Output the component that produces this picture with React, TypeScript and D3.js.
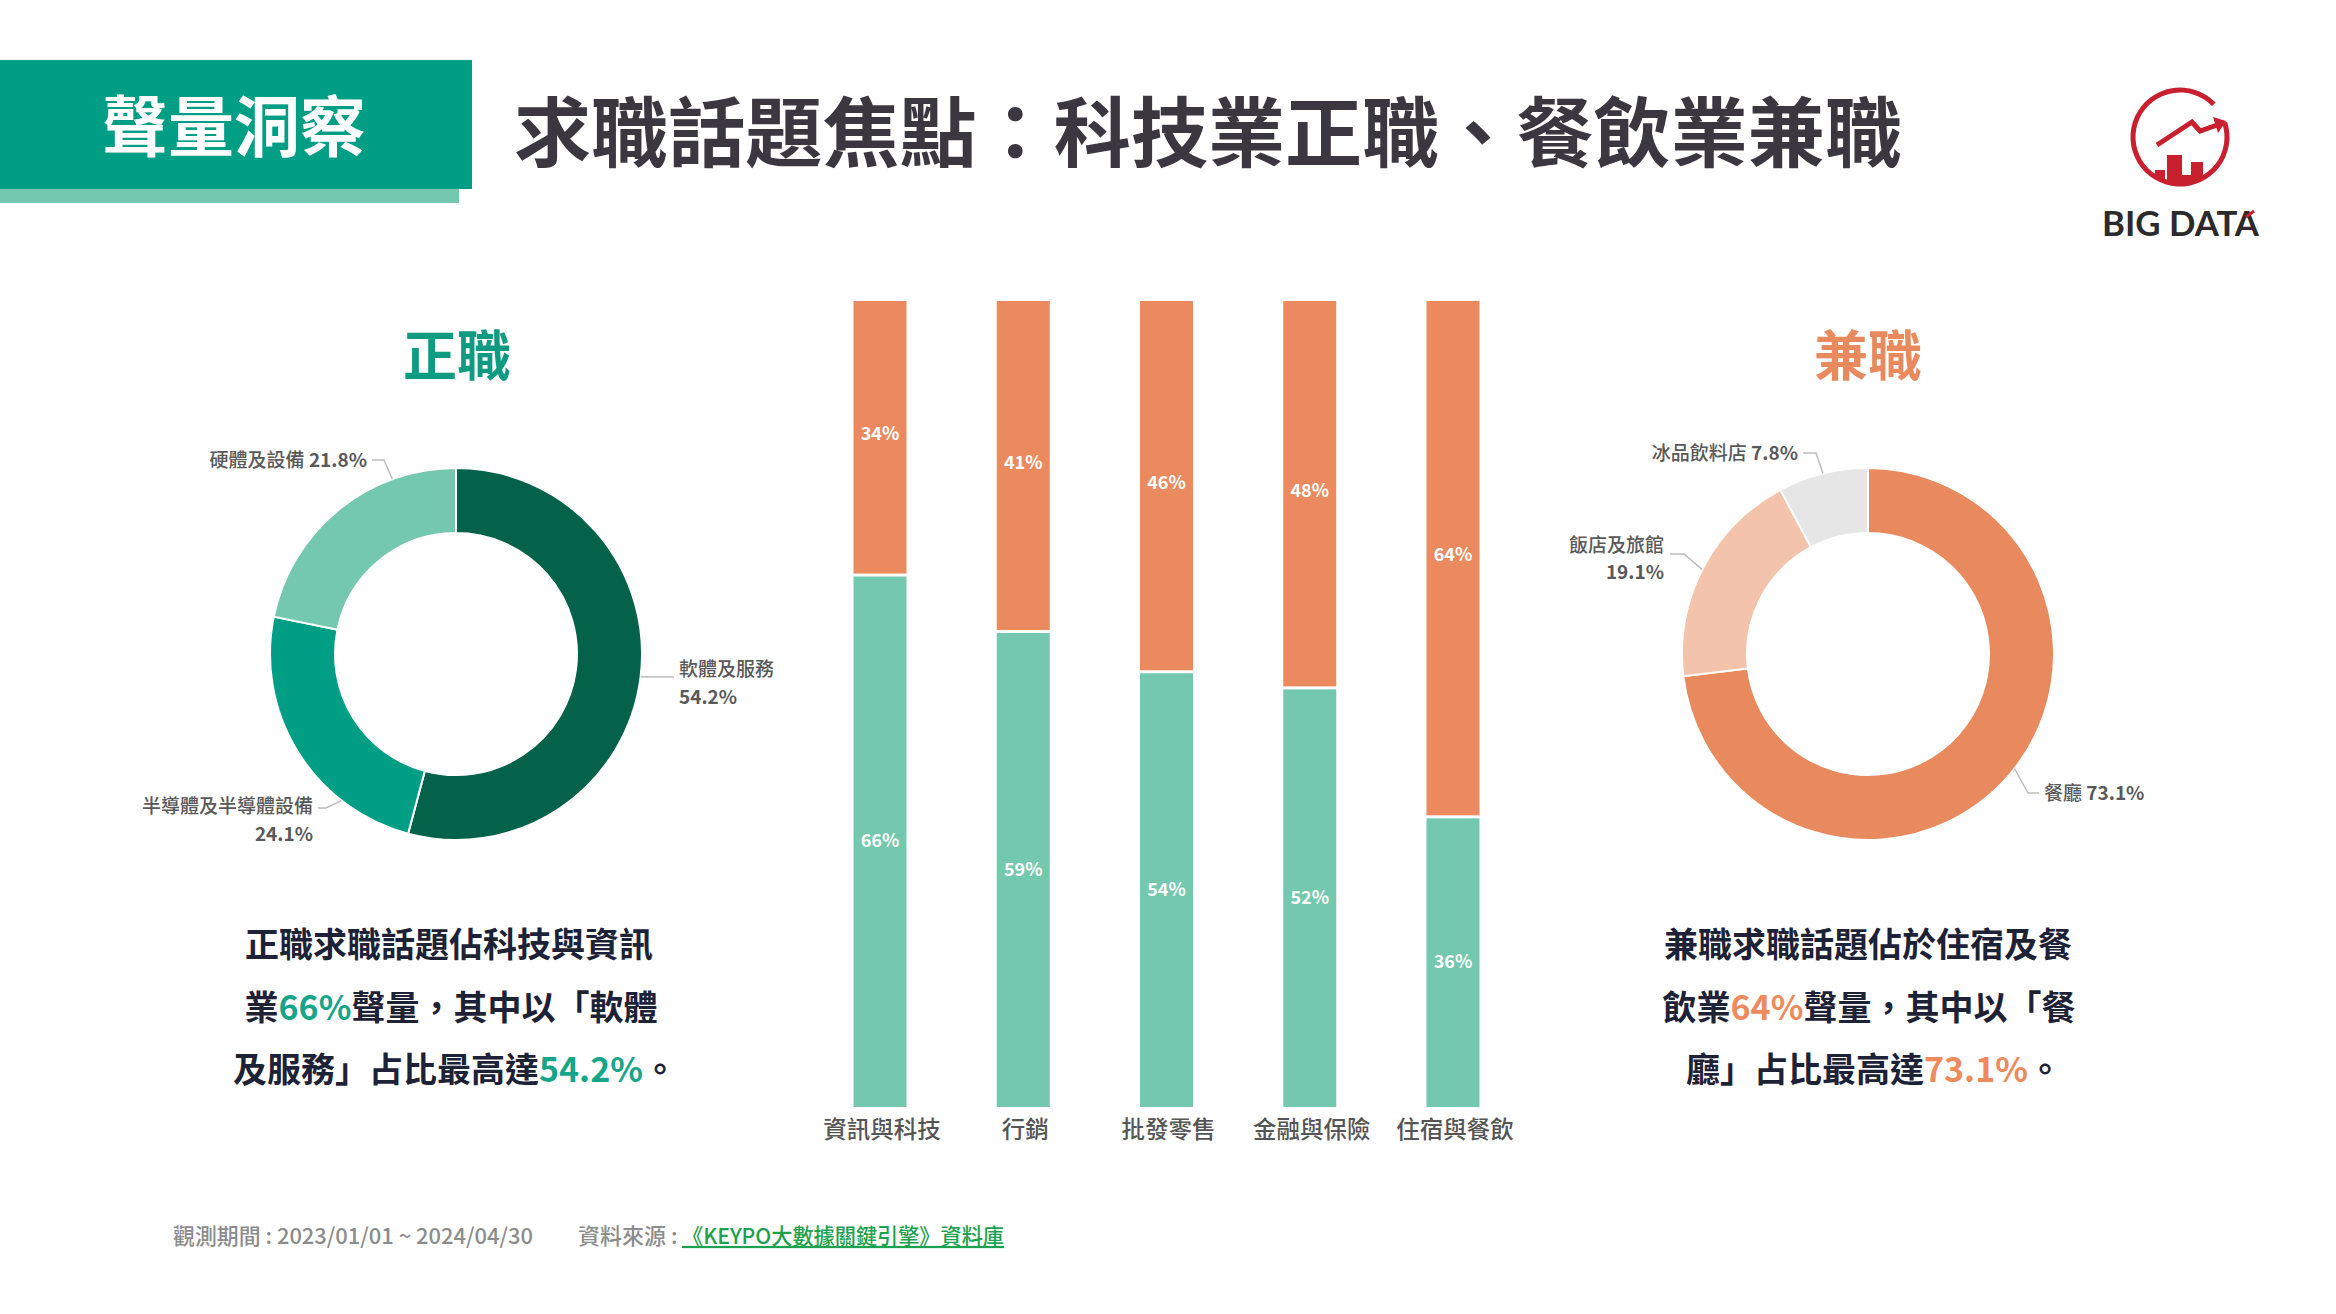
import React from "react";
import * as d3 from "d3";

// --- data ---
const fullTimeNames = ["軟體及服務", "半導體及半導體設備", "硬體及設備"];
const fullTimeValues = [54.2, 24.1, 21.8];
const fullTimeColors = ["#04614A", "#009E85", "#74C8AE"];

const partTimeNames = ["餐廳", "飯店及旅館", "冰品飲料店"];
const partTimeValues = [73.1, 19.1, 7.8];
const partTimeColors = ["#E98A5E", "#F3C3AC", "#E6E6E6"];

const industries = ["資訊與科技", "行銷", "批發零售", "金融與保險", "住宿與餐飲"];
const fullShare = [66, 59, 54, 52, 36];
const partShare = [34, 41, 46, 48, 64];

const W = 2336;
const H = 1314;
const FONT = "'Noto Sans CJK TC', 'Noto Sans', sans-serif";
const R_OUT = 186;
const R_IN = 121;

type LabelCfg = {
  angle: number;
  pts: [number, number][];
  x: number;
  lines: { text: string; dy: number; bold?: boolean; tail?: string }[];
  anchor: "start" | "end";
};

const fullLabels: LabelCfg[] = [
  { angle: 97, pts: [[218, 23]], x: 223, anchor: "start", lines: [{ text: fullTimeNames[0], dy: 15 }, { text: "54.2%", dy: 43, bold: true }] },
  { angle: 218, pts: [[-130, 154], [-138, 154]], x: -143, anchor: "end", lines: [{ text: fullTimeNames[1], dy: 152 }, { text: "24.1%", dy: 180, bold: true }] },
  { angle: 340, pts: [[-72, -194], [-84, -194]], x: -89, anchor: "end", lines: [{ text: fullTimeNames[2] + " ", dy: -194, tail: "21.8%" }] },
];

const partLabels: LabelCfg[] = [
  { angle: 128, pts: [[160, 139], [171, 139]], x: 176, anchor: "start", lines: [{ text: partTimeNames[0] + " ", dy: 139, tail: "73.1%" }] },
  { angle: 297, pts: [[-184, -100], [-198, -100]], x: -204, anchor: "end", lines: [{ text: partTimeNames[1], dy: -109 }, { text: "19.1%", dy: -82, bold: true }] },
  { angle: 346, pts: [[-52, -201], [-65, -201]], x: -70, anchor: "end", lines: [{ text: partTimeNames[2] + " ", dy: -201, tail: "7.8%" }] },
];

function Donut({ cx, cy, values, colors, labels }: { cx: number; cy: number; values: number[]; colors: string[]; labels: LabelCfg[] }) {
  const pie = d3.pie<number>().sort(null).value((d) => d);
  const arc = d3.arc<d3.PieArcDatum<number>>().innerRadius(R_IN).outerRadius(R_OUT);
  const arcs = pie(values);
  return (
    <g transform={`translate(${cx},${cy})`}>
      {arcs.map((a, i) => (
        <path key={i} d={arc(a) || ""} fill={colors[i]} stroke="#fff" strokeWidth={2} />
      ))}
      {labels.map((l, i) => {
        const t = (l.angle * Math.PI) / 180;
        const start: [number, number] = [R_OUT * Math.sin(t), -R_OUT * Math.cos(t)];
        const line = d3.line()([start, ...l.pts]) || "";
        return (
          <g key={i}>
            <path d={line} fill="none" stroke="#BDBDBD" strokeWidth={1.5} />
            {l.lines.map((ln, j) => (
              <text key={j} x={l.x} y={ln.dy} dy="0.35em" textAnchor={l.anchor} fontSize={19} fill="#595959" fontWeight={ln.bold ? 700 : 500}>
                {ln.text}
                {ln.tail && <tspan fontWeight={700}>{ln.tail}</tspan>}
              </text>
            ))}
          </g>
        );
      })}
    </g>
  );
}

function Bars() {
  const x = d3.scalePoint<string>().domain(industries).range([880, 1453]);
  const y = d3.scaleLinear().domain([0, 100]).range([1107, 301]);
  const bw = 53;
  const gap = 1.5;
  return (
    <g>
      {industries.map((c, i) => {
        const cx = x(c) as number;
        const split = y(fullShare[i]);
        const top = y(fullShare[i] + partShare[i]);
        return (
          <g key={c}>
            <rect x={cx - bw / 2} y={top} width={bw} height={split - gap - top} fill="#EA8A5E" />
            <rect x={cx - bw / 2} y={split + gap} width={bw} height={y(0) - split - gap} fill="#73C8AE" />
            <text x={cx} y={(top + split) / 2 - 4} dy="0.35em" textAnchor="middle" fill="#fff" fontSize={18} fontWeight={700}>
              {partShare[i]}%
            </text>
            <text x={cx} y={(split + y(0)) / 2} dy="0.35em" textAnchor="middle" fill="#fff" fontSize={18} fontWeight={700}>
              {fullShare[i]}%
            </text>
            <text x={cx + 2} y={1130} dy="0.35em" textAnchor="middle" fill="#555" fontSize={23.5} fontWeight={500}>
              {c}
            </text>
          </g>
        );
      })}
    </g>
  );
}

function Logo() {
  const cx = 2180;
  const cy = 137;
  const r = 47;
  const a0 = (72 * Math.PI) / 180;
  const a1 = ((360 + 46) * Math.PI) / 180;
  const ring = d3.arc()({ innerRadius: r - 2.5, outerRadius: r + 2.5, startAngle: a0, endAngle: a1 }) || "";
  const zig = d3.line()([[-23, 8], [12, -15], [20, -6], [40, -13]]) || "";
  return (
    <g transform={`translate(${cx},${cy})`}>
      <defs>
        <clipPath id="logoClip">
          <circle r={r} />
        </clipPath>
      </defs>
      <path d={ring} fill="#C8202E" />
      <path d={zig} fill="none" stroke="#C8202E" strokeWidth={5} />
      <path d="M33,-20 L46,-16 L38,-4 Z" fill="#C8202E" />
      <g clipPath="url(#logoClip)" fill="#C8202E">
        <rect x={-13} y={18} width={15} height={40} />
        <rect x={11} y={25} width={12} height={40} />
        <rect x={-25} y={33} width={10} height={30} />
        <rect x={2} y={38} width={9} height={30} />
      </g>
      <text x={-78} y={99} fontFamily="Lato, 'Open Sans', sans-serif" fontSize={34} fontWeight={700} fill="#2b2b2b" textLength={157} lengthAdjust="spacingAndGlyphs">
        BIG DATA
      </text>
      <path d="M66,80 L74,74" stroke="#C8202E" strokeWidth={3} />
    </g>
  );
}

export default function App() {
  const para = { fontSize: 34, fontWeight: 700, fill: "#1E2236", textAnchor: "middle" as const };
  return (
    <svg width={W} height={H} style={{ position: "absolute", left: 0, top: 0, background: "#fff" }} fontFamily={FONT}>
      <rect width={W} height={H} fill="#fff" />
      {/* header */}
      <rect x={0} y={189} width={459} height={14} fill="#74C8AE" />
      <rect x={0} y={60} width={472} height={129} fill="#009E85" />
      <text x={234} y={127} dy="0.36em" textAnchor="middle" fill="#fff" fontSize={66} fontWeight={700}>
        聲量洞察
      </text>
      <text x={514} y={134} dy="0.36em" fill="#3B3740" fontSize={76} fontWeight={700} textLength={1388} lengthAdjust="spacingAndGlyphs">
        求職話題焦點：科技業正職、餐飲業兼職
      </text>
      <Logo />

      {/* left donut */}
      <text x={457} y={357} dy="0.36em" textAnchor="middle" fill="#0E9B82" fontSize={54} fontWeight={700}>
        正職
      </text>
      <Donut cx={456} cy={654} values={fullTimeValues} colors={fullTimeColors} labels={fullLabels} />
      <text x={449} y={945} dy="0.36em" {...para}>正職求職話題佔科技與資訊</text>
      <text x={451} y={1008} dy="0.36em" {...para}>
        業<tspan fill="#17A589">66%</tspan>聲量，其中以「軟體
      </text>
      <text x={455} y={1070} dy="0.36em" {...para}>
        及服務」占比最高達<tspan fill="#17A589">54.2%</tspan>。
      </text>

      {/* bars */}
      <Bars />

      {/* right donut */}
      <text x={1868} y={357} dy="0.36em" textAnchor="middle" fill="#E98A5E" fontSize={54} fontWeight={700}>
        兼職
      </text>
      <Donut cx={1868} cy={654} values={partTimeValues} colors={partTimeColors} labels={partLabels} />
      <text x={1868} y={945} dy="0.36em" {...para}>兼職求職話題佔於住宿及餐</text>
      <text x={1869} y={1008} dy="0.36em" {...para}>
        飲業<tspan fill="#EE8A5B">64%</tspan>聲量，其中以「餐
      </text>
      <text x={1874} y={1070} dy="0.36em" {...para}>
        廳」占比最高達<tspan fill="#EE8A5B">73.1%</tspan>。
      </text>

      {/* footer */}
      <text x={173} y={1236} dy="0.36em" fill="#8C8C8C" fontSize={22} fontWeight={500} textLength={360} lengthAdjust="spacingAndGlyphs">
        觀測期間 : 2023/01/01 ~ 2024/04/30
      </text>
      <text x={578} y={1236} dy="0.36em" fill="#8C8C8C" fontSize={22} fontWeight={500}>
        資料來源 :
      </text>
      <text x={682} y={1236} dy="0.36em" fill="#1CA24E" fontSize={22} fontWeight={500} textDecoration="underline" textLength={322} lengthAdjust="spacingAndGlyphs">
        《KEYPO大數據關鍵引擎》資料庫
      </text>
    </svg>
  );
}
